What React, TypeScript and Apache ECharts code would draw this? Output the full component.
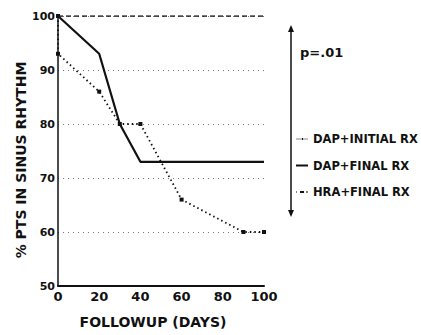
import React, { useEffect, useRef } from "react";
import * as echarts from "echarts";

const xTicks = [0, 20, 40, 60, 80, 100];
const seriesNames = ["DAP+INITIAL RX", "DAP+FINAL RX", "HRA+FINAL RX"];
const dapInitial: [number, number][] = [[0, 100], [100, 100]];
const dapFinal: [number, number][] = [[0, 100], [20, 93], [30, 80], [40, 73], [100, 73]];
const hraFinal: [number, number][] = [[0, 100], [0, 93], [20, 86], [30, 80], [40, 80], [60, 66], [90, 60], [100, 60]];
const pValue = "p=.01";

const FONT = "DejaVu Sans";

export default function App() {
  const ref = useRef<HTMLDivElement>(null);
  useEffect(() => {
    if (!ref.current) return;
    const chart = echarts.init(ref.current, null, { renderer: "svg" });
    chart.setOption({
      animation: false,
      backgroundColor: "#ffffff",
      textStyle: { fontFamily: FONT },
      grid: { left: 58, right: 157, top: 16, bottom: 49 },
      xAxis: {
        type: "value",
        min: xTicks[0],
        max: xTicks[xTicks.length - 1],
        interval: 20,
        name: "FOLLOWUP (DAYS)",
        nameLocation: "middle",
        nameGap: 29,
        nameTextStyle: { fontFamily: FONT, fontWeight: "bold", fontSize: 14, color: "#111", padding: [0, 16, 0, 0] },
        axisLine: { show: true, lineStyle: { color: "#111", width: 2 } },
        axisTick: { show: false },
        axisLabel: { fontFamily: FONT, fontWeight: "bold", fontSize: 13, color: "#111", margin: 4 },
        splitLine: { show: false },
      },
      yAxis: {
        type: "value",
        min: 50,
        max: 100,
        interval: 10,
        name: "% PTS IN SINUS RHYTHM",
        nameLocation: "middle",
        nameGap: 29,
        nameTextStyle: { fontFamily: FONT, fontWeight: "bold", fontSize: 14, color: "#111", padding: [0, 18, 0, 0] },
        axisLine: { show: true, lineStyle: { color: "#111", width: 1.5 } },
        axisTick: { show: false },
        axisLabel: { fontFamily: FONT, fontWeight: "bold", fontSize: 11, color: "#111", margin: 3 },
        splitLine: { show: true, lineStyle: { color: "#777", width: 1, type: [1, 4] } },
      },
      legend: {
        orient: "vertical",
        left: 296,
        top: 133,
        padding: 0,
        itemWidth: 12,
        itemHeight: 2,
        itemGap: 14.5,
        symbolKeepAspect: false,
        textStyle: { fontFamily: FONT, fontWeight: "bold", fontSize: 11.5, color: "#111" },
        data: [
          { name: seriesNames[0], icon: "path://M0,3H12V5H0ZM6,1H7V7H6Z", itemStyle: { color: "#111" } },
          { name: seriesNames[1], icon: "rect", itemStyle: { color: "#111" } },
          { name: seriesNames[2], icon: "path://M0,3H1V5H0ZM4,2H8V6H4ZM10,3H12V5H10Z", itemStyle: { color: "#111" } },
        ],
      },
      graphic: [
        { type: "line", shape: { x1: 291, y1: 30, x2: 291, y2: 212 }, style: { stroke: "#111", lineWidth: 1.5 } },
        { type: "polygon", shape: { points: [[288, 32], [294, 32], [291, 25]] }, style: { fill: "#111" } },
        { type: "polygon", shape: { points: [[288, 210], [294, 210], [291, 217]] }, style: { fill: "#111" } },
        {
          type: "text",
          x: 300,
          y: 52,
          style: { text: pValue, fill: "#111", font: `bold 13px ${FONT}`, verticalAlign: "middle" },
        },
      ],
      series: [
        {
          name: seriesNames[0],
          type: "line",
          data: dapInitial,
          symbol: "none",
          lineStyle: { color: "#111", width: 1.6, type: [5, 3] },
          itemStyle: { color: "#111" },
        },
        {
          name: seriesNames[1],
          type: "line",
          data: dapFinal,
          symbol: "none",
          lineStyle: { color: "#111", width: 2.2, type: "solid" },
          itemStyle: { color: "#111" },
        },
        {
          name: seriesNames[2],
          type: "line",
          data: hraFinal,
          symbol: "rect",
          symbolSize: 4,
          showAllSymbol: true,
          lineStyle: { color: "#111", width: 1.8, type: [1.5, 3] },
          itemStyle: { color: "#111" },
        },
      ],
    });
    return () => chart.dispose();
  }, []);
  return <div ref={ref} style={{ width: 421, height: 335, position: "absolute", left: 0, top: 0 }} />;
}
